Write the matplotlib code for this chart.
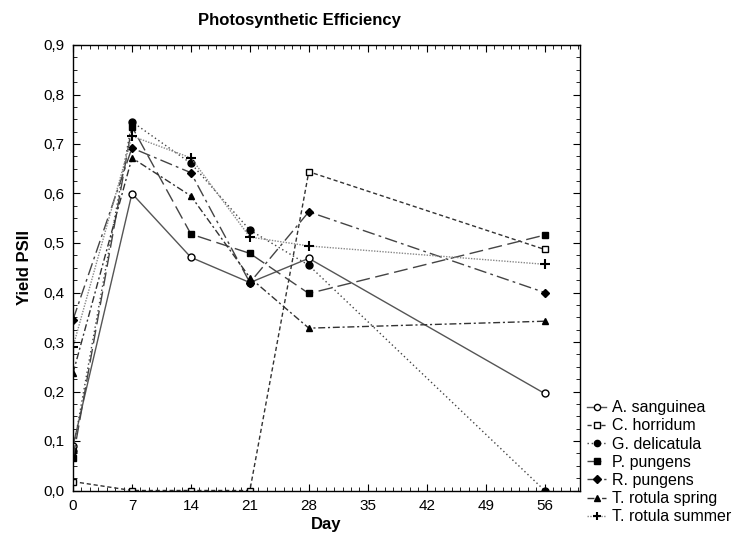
import numpy as np
import matplotlib
matplotlib.use('Agg')
import matplotlib.pyplot as plt
from matplotlib.ticker import MultipleLocator, FuncFormatter

plt.rcParams['font.family'] = ['Liberation Sans', 'DejaVu Sans']

# Sampling days
days = [0, 7, 14, 21, 28, 56]

# Yield PSII per species
a_sanguinea = [0.09, 0.60, 0.471, 0.42, 0.469, 0.196]
c_horridum = [0.018, 0.0, 0.0, 0.0, 0.644, 0.487]
g_delicatula = [0.08, 0.745, 0.661, 0.526, 0.455, 0.0]
p_pungens = [0.065, 0.735, 0.518, 0.479, 0.398, 0.516]
r_pungens = [0.345, 0.692, 0.642, 0.42, 0.563, 0.40]
t_rotula_spring = [0.237, 0.672, 0.595, 0.43, 0.328, 0.342]
t_rotula_summer = [0.29, 0.716, 0.672, 0.512, 0.494, 0.457]

labels = ['A. sanguinea', 'C. horridum', 'G. delicatula', 'P. pungens',
          'R. pungens', 'T. rotula spring', 'T. rotula summer']

fig = plt.figure(figsize=(7.34, 5.47), dpi=100)
ax = fig.add_axes([73/734, 1 - 490.5/547, (580 - 73)/734, (490.5 - 45)/547])

# line style, marker, marker fill, line colour for each species
styles = [
    ('-', 'o', 'white', '#555555'),
    ((0, (3, 2)), 's', 'white', '#333333'),
    ((0, (1, 2)), 'o', 'black', '#444444'),
    ((0, (10, 4)), 's', 'black', '#444444'),
    ((0, (9, 3, 2, 3)), 'D', 'black', '#444444'),
    ((0, (5, 2, 1.5, 2)), '^', 'black', '#333333'),
    ((0, (1, 1)), '+', 'black', '#888888'),
]
series = [a_sanguinea, c_horridum, g_delicatula, p_pungens, r_pungens,
          t_rotula_spring, t_rotula_summer]

for vals, lab, (ls, mk, fc, col) in zip(series, labels, styles):
    ms = 5 if mk != 'D' else 4.5
    if mk == '+':
        ms = 7
    ax.plot(days, vals, linestyle=ls, color=col, linewidth=1.0, marker=mk,
            markersize=ms, markerfacecolor=fc, markeredgecolor='black',
            markeredgewidth=1.0 if mk != '+' else 1.5, label=lab)

ax.set_xlim(0, 60.2)
ax.set_ylim(0, 0.9)
ax.xaxis.set_major_locator(MultipleLocator(7))
ax.xaxis.set_minor_locator(MultipleLocator(1))
ax.yaxis.set_major_locator(MultipleLocator(0.1))
ax.yaxis.set_minor_locator(MultipleLocator(0.025))
ax.yaxis.set_major_formatter(FuncFormatter(lambda v, p: f'{v:.1f}'.replace('.', ',')))
ax.tick_params(which='both', direction='in', top=True, right=True, labelsize=11,
               colors='black')
ax.tick_params(which='major', length=5, pad=6)
ax.tick_params(which='minor', length=3)
for s in ax.spines.values():
    s.set_linewidth(1.0)

ax.set_xlabel('Day', fontsize=12, fontweight='bold', labelpad=3)
ax.set_ylabel('Yield PSII', fontsize=12, fontweight='bold', labelpad=8)
fig.text(299/734, 1 - 20/547, 'Photosynthetic Efficiency', fontsize=12,
         fontweight='bold', ha='center', va='center')

fig.legend(loc='upper left', bbox_to_anchor=(576/734, 1 - 389/547), frameon=False,
           fontsize=11.5, handlelength=1.2, handletextpad=0.35, labelspacing=0.2,
           borderpad=0.2, markerscale=0.9)

fig.savefig('out.png', dpi=100)
